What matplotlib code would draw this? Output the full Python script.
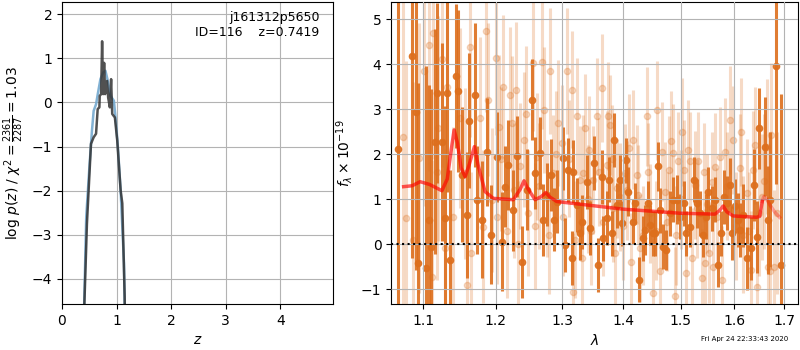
import matplotlib
matplotlib.use('Agg')
import matplotlib.pyplot as plt
from matplotlib.ticker import NullLocator, FixedLocator
import numpy as np

# p(z) panel
z_fit = [0.395, 0.444, 0.506, 0.549, 0.58, 0.624, 0.661, 0.704, 0.753, 0.796, 0.84,
         0.889, 0.951, 0.981, 1.025, 1.074, 1.136, 1.154]
logp_fit = [-5.2, -2.60, -1.39, -0.64, -0.19, -0.04, 0.23, 0.53, 0.68, 0.72, 0.49,
            0.15, 0.04, -0.34, -1.02, -1.99, -3.65, -5.0]
z_grid = [0.407, 0.457, 0.531, 0.58, 0.624, 0.654, 0.685, 0.691, 0.717, 0.735, 0.753,
          0.772, 0.79, 0.827, 0.846, 0.877, 0.90, 0.92, 0.969, 1.012, 1.074, 1.105,
          1.148, 1.16]
logp_grid = [-4.7, -2.75, -0.94, -0.79, -0.71, -0.15, -0.11, 0.15, 0.19, 1.39, 0.19,
             0.90, 0.19, 0.49, 0.11, -0.11, 0.53, -0.26, -0.34, -0.86, -1.99, -2.29,
             -4.40, -5.5]

# spectrum panel, first beam (dark)
wave_a = [1.0673, 1.0855, 1.0899, 1.0925, 1.1030, 1.1075, 1.1102, 1.1156, 1.1179, 1.1246,
          1.1292, 1.1323, 1.1359, 1.1441, 1.1474, 1.1520, 1.1599, 1.1627, 1.1706, 1.1730,
          1.1801, 1.1872, 1.1934, 1.2016, 1.2089, 1.2137, 1.2186, 1.2250, 1.2310, 1.2384,
          1.2458, 1.2533, 1.2584, 1.2660, 1.2711, 1.2762, 1.2824, 1.2881, 1.2928, 1.3011,
          1.3048, 1.3100, 1.3152, 1.3179, 1.3232, 1.3286, 1.3312, 1.3392, 1.3446, 1.3512,
          1.3582, 1.3637, 1.3664, 1.3719, 1.3763, 1.3802, 1.3841, 1.3885, 1.3941, 1.3981,
          1.4037, 1.4081, 1.4156, 1.4195, 1.4270, 1.4327, 1.4367, 1.4425, 1.4454, 1.4512,
          1.4542, 1.4600, 1.4629, 1.4688, 1.4735, 1.4806, 1.4867, 1.4938, 1.4986, 1.5058,
          1.5095, 1.5167, 1.5247, 1.5303, 1.5352, 1.5401, 1.5463, 1.5506, 1.5569, 1.5632,
          1.5694, 1.5757, 1.5808, 1.5853, 1.5916, 1.5949, 1.6012, 1.6077, 1.6109, 1.6174,
          1.6240, 1.6324, 1.6384, 1.6450, 1.6490, 1.6602, 1.6669, 1.6716, 1.6824, 1.6938]
flux_a = [2.12, 4.19, 2.93, -0.42, -0.53, 0.54, -0.05, 2.28, 3.36, 2.28,
          0.58, 3.36, -0.35, 3.73, 3.41, 1.54, 0.65, 2.74, 3.32, 0.99,
          0.54, 2.06, 0.21, 1.93, 0.06, 1.28, 1.76, 0.76, 1.96, -0.39,
          1.21, 3.21, 1.58, 2.02, 0.54, 1.10, 1.54, 0.54, 0.95, 1.91,
          -0.01, 1.65, -0.31, 1.61, 0.87, 0.24, 0.50, 1.39, 0.36, 1.80,
          -0.46, 1.50, 0.13, 0.58, 1.43, 0.24, 2.32, 0.87, 1.43, 0.47,
          1.87, 1.17, 0.50, 0.91, -0.79, 0.13, 0.32, 0.91, 0.43, 0.24,
          0.24, 1.73, 0.76, -0.05, -0.13, 0.69, 0.99, 0.99, 0.61, 0.91,
          0.24, 0.39, 1.43, 0.91, 0.69, 0.21, 0.61, 1.17, 0.80, 0.99,
          -0.46, 0.24, 1.06, 0.91, 1.32, 0.24, 0.84, 0.54, 0.32, 0.65,
          -0.31, -0.09, 1.32, 0.17, 2.58, 2.17, 0.54, 0.99, 3.95, -0.46]
err_a = [5.0, 4.5, 3.5, 4.0, 4.5, 3.0, 3.5, 2.5, 2.0, 2.2,
         2.5, 2.2, 2.0, 1.6, 1.8, 1.5, 1.4, 1.5, 1.6, 1.2,
         1.3, 1.2, 1.1, 1.0, 1.1, 0.9, 1.0, 0.9, 0.9, 0.8,
         0.9, 0.9, 0.8, 0.8, 0.8, 0.7, 0.8, 0.7, 0.7, 0.7,
         0.6, 0.7, 0.6, 0.7, 0.6, 0.6, 0.6, 0.6, 0.6, 0.6,
         0.6, 0.6, 0.5, 0.6, 0.5, 0.5, 0.6, 0.5, 0.55, 0.5,
         0.5, 0.55, 0.5, 0.45, 0.5, 0.5, 0.55, 0.5, 0.45, 0.5,
         0.5, 0.55, 0.5, 0.5, 0.45, 0.5, 0.5, 0.55, 0.5, 0.5,
         0.5, 0.45, 0.5, 0.55, 0.5, 0.5, 0.5, 0.55, 0.5, 0.5,
         0.5, 0.5, 0.6, 0.6, 0.6, 0.6, 0.6, 0.6, 0.6, 0.7,
         0.7, 0.7, 0.8, 0.8, 0.9, 1.1, 1.2, 1.5, 2.6, 3.8]

# second beam (light); the last rows are faint points hidden behind the dark ones
wave_b = [1.0738, 1.0773, 1.0868, 1.0947, 1.1009, 1.1080, 1.1111, 1.1133, 1.1178, 1.1201,
          1.1246, 1.1291, 1.1314, 1.1405, 1.1497, 1.1566, 1.1599, 1.1636, 1.1645, 1.1777,
          1.1825, 1.1863, 1.1896, 1.1944, 1.2007, 1.2026, 1.2055, 1.2113, 1.2211, 1.2235,
          1.2299, 1.2359, 1.2419, 1.2483, 1.2548, 1.2609, 1.2685, 1.2726, 1.2762, 1.2813,
          1.2864, 1.2943, 1.2995, 1.3073, 1.3152, 1.3179, 1.3232, 1.3286, 1.3339, 1.3366,
          1.3435, 1.3500, 1.3554, 1.3637, 1.3719, 1.3747, 1.3774, 1.3830, 1.3897, 1.3941,
          1.4026, 1.4100, 1.4168, 1.4225, 1.4282, 1.4397, 1.4455, 1.4513, 1.4583, 1.4659,
          1.4719, 1.4796, 1.4867, 1.4897, 1.4957, 1.5017, 1.5060, 1.5096, 1.5169, 1.5260,
          1.5321, 1.5383, 1.5445, 1.5526, 1.5569, 1.5632, 1.5726, 1.5822, 1.5918, 1.5982,
          1.6110, 1.6175, 1.6241, 1.6319, 1.6371, 1.6437, 1.6536, 1.6636, 1.6669, 1.6736,
          1.6783,
          1.2080, 1.2170, 1.2270, 1.2335, 1.2450, 1.2580, 1.2650, 1.2790, 1.2900, 1.3020,
          1.3110, 1.3205, 1.3310, 1.3410, 1.3470, 1.3585, 1.3665, 1.3800, 1.3865, 1.3990,
          1.4065, 1.4130, 1.4250, 1.4340, 1.4425, 1.4560, 1.4630, 1.4760, 1.4830, 1.4920,
          1.5000, 1.5130, 1.5210, 1.5290, 1.5420, 1.5490, 1.5600, 1.5680, 1.5770, 1.5870,
          1.6040, 1.6140, 1.6280, 1.6400, 1.6480, 1.6580, 1.6710, 1.6850]
flux_b = [2.39, 0.58, 0.10, 1.91, 3.84, 4.43, -0.72, 4.69, 1.61, 2.58,
          4.11, -0.09, 3.50, 0.61, 2.80, 1.58, -0.90, 4.39, -0.20, 2.80,
          0.39, 4.73, 3.21, 0.99, 4.13, 0.61, 2.61, 3.50, 3.32, 2.69,
          3.43, 1.73, 2.32, 0.69, 4.02, 1.95, 4.06, 2.99, 1.02, 3.84,
          1.58, 2.69, 2.24, 3.84, 3.43, -1.05, 2.84, 1.43, 1.58, 2.58,
          2.10, 1.43, 2.84, 3.47, 1.76, 2.84, 2.65, 0.80, 1.24, 1.06,
          1.58, 2.13, 2.32, 1.54, -0.09, 2.84, 0.69, -1.09, 2.98, 2.06,
          1.17, 1.65, 2.02, -1.16, 1.84, 2.50, 1.65, -0.64, 1.84, 1.32,
          1.84, -0.76, -0.42, -0.20, 1.39, 1.72, 1.95, 2.06, 2.76, 2.32,
          1.69, 0.21, 1.13, -0.57, 1.65, -0.94, 1.06, 2.17, -0.50, 2.43,
          -0.50,
          1.9, 0.3, 1.2, 0.0, 2.9, 0.4, 1.3, 0.2, 2.0, 0.6,
          1.9, 0.1, -0.3, 1.0, 0.3, 1.6, 0.5, 1.9, -0.2, 0.4,
          1.2, -0.4, 1.1, 0.2, 1.6, 0.3, -0.6, 0.5, 2.3, 0.2,
          1.0, 2.1, -0.3, 0.8, 1.6, 0.9, -0.5, 0.6, -0.8, 1.3,
          0.4, 2.5, 0.3, 2.2, 0.7, 1.4, -0.6, 0.7]
err_b = [4.0, 3.5, 3.5, 3.0, 3.0, 2.8, 2.6, 2.8, 2.4, 2.5,
         2.4, 2.2, 2.3, 2.0, 2.0, 1.9, 1.9, 2.0, 1.8, 1.8,
         1.7, 1.8, 1.7, 1.6, 1.7, 1.5, 1.6, 1.6, 1.5, 1.5,
         1.5, 1.4, 1.5, 1.4, 1.5, 1.4, 1.5, 1.4, 1.3, 1.4,
         1.3, 1.4, 1.3, 1.4, 1.3, 1.3, 1.3, 1.2, 1.3, 1.2,
         1.2, 1.2, 1.3, 1.2, 1.2, 1.2, 1.1, 1.2, 1.1, 1.2,
         1.1, 1.2, 1.1, 1.1, 1.2, 1.1, 1.1, 1.2, 1.1, 1.1,
         1.1, 1.2, 1.1, 1.1, 1.1, 1.2, 1.1, 1.1, 1.1, 1.2,
         1.1, 1.1, 1.2, 1.1, 1.1, 1.2, 1.1, 1.2, 1.2, 1.2,
         1.2, 1.3, 1.2, 1.3, 1.3, 1.3, 1.4, 1.5, 1.5, 1.6,
         1.7,
         1.6, 1.5, 1.5, 1.4, 1.5, 1.4, 1.4, 1.3, 1.4, 1.3,
         1.3, 1.3, 1.3, 1.2, 1.2, 1.2, 1.2, 1.2, 1.2, 1.2,
         1.1, 1.1, 1.1, 1.1, 1.1, 1.1, 1.1, 1.1, 1.1, 1.1,
         1.1, 1.1, 1.1, 1.1, 1.1, 1.1, 1.1, 1.1, 1.2, 1.2,
         1.2, 1.2, 1.3, 1.3, 1.4, 1.5, 1.6, 1.8]

# best-fit template
wave_model = [1.074, 1.085, 1.0956, 1.108, 1.1247, 1.132, 1.137, 1.1414, 1.146, 1.151,
              1.1566, 1.162, 1.1697, 1.175, 1.1848, 1.1967, 1.2259, 1.236, 1.2418, 1.247,
              1.2585, 1.268, 1.2748, 1.281, 1.2918, 1.3997, 1.4987, 1.5633, 1.5720, 1.5789,
              1.586, 1.598, 1.6437, 1.650, 1.655]
flux_model = [1.28, 1.30, 1.39, 1.33, 1.19, 1.45, 2.05, 2.54, 2.25, 1.70,
              1.50, 1.75, 2.17, 1.75, 1.17, 1.02, 0.99, 1.22, 1.41, 1.25,
              0.99, 1.06, 1.15, 1.05, 0.95, 0.78, 0.69, 0.67, 0.75, 0.85,
              0.72, 0.63, 0.60, 0.62, 0.95]
wave_tail = [1.655, 1.658, 1.664, 1.670, 1.680, 1.690]
flux_tail = [0.95, 1.06, 1.0, 0.88, 0.72, 0.60]

obj_name = 'j161312p5650'
obj_id = 116
z_best = 0.7419

orange = '#dd6f1d'

fig = plt.figure(figsize=(8, 3.5), dpi=100)
ax1 = fig.add_axes([0.0775, 0.131, 0.339, 0.863])
ax2 = fig.add_axes([0.489, 0.131, 0.5085, 0.863])

ax1.plot(z_fit, logp_fit, color='#74a9cf', lw=1.8, alpha=0.9)
ax1.plot(z_grid, logp_grid, color='0.2', lw=1.8, alpha=0.85)
ax1.set_xlim(0, 4.97)
ax1.set_ylim(-4.58, 2.28)
ax1.set_xticks([0, 1, 2, 3, 4])
ax1.set_yticks([-4, -3, -2, -1, 0, 1, 2])
ax1.grid(color='0.7')
ax1.set_xlabel('$z$')
ax1.set_ylabel(r'log $p(z)$ / $\chi^2=\frac{2361}{2287}=1.03$')
ax1.text(0.95, 0.97, '{0}\nID={1}    z={2:.4f}'.format(obj_name, obj_id, z_best),
         ha='right', va='top', transform=ax1.transAxes, fontsize=9)

ax2.errorbar(wave_b, flux_b, yerr=err_b, fmt='o', color=orange, alpha=0.25,
             markersize=4.5, elinewidth=2.2, capsize=0, zorder=1)
ax2.errorbar(wave_a, flux_a, yerr=err_a, fmt='o', color=orange, alpha=0.9,
             markersize=4.5, elinewidth=2.2, capsize=0, zorder=2)
ax2.plot(wave_model, flux_model, color='red', lw=2.5, alpha=0.65, zorder=3)
ax2.plot(wave_tail, flux_tail, color='red', lw=2.5, alpha=0.3, zorder=3)
ax2.axhline(0, color='k', ls=':', lw=1.5, zorder=4)

ax2.set_xscale('log')
ax2.set_xlim(1.058, 1.728)
ax2.set_ylim(-1.33, 5.38)
ax2.xaxis.set_major_locator(FixedLocator([1.1, 1.2, 1.3, 1.4, 1.5, 1.6, 1.7]))
ax2.xaxis.set_minor_locator(NullLocator())
ax2.set_xticklabels(['1.1', '1.2', '1.3', '1.4', '1.5', '1.6', '1.7'])
ax2.set_yticks([-1, 0, 1, 2, 3, 4, 5])
ax2.grid(color='0.7')
ax2.set_axisbelow(False)
ax2.set_xlabel(r'$\lambda$')
ax2.set_ylabel(r'$f_\lambda\times10^{-19}$')

fig.text(0.985, 0.03, 'Fri Apr 24 22:33:43 2020', ha='right', va='center', fontsize=5)

fig.savefig('out.png', dpi=100)
